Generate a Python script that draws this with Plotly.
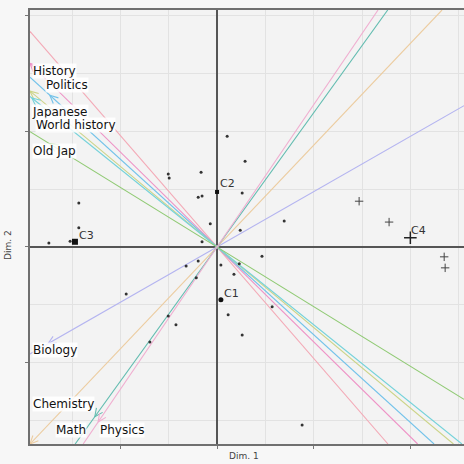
import numpy as np
import plotly.graph_objects as go

# ---- data ----
dot_x = [0.21, -1.01, -0.99, -0.33, 0.58, -0.39, -0.31, 0.52, -0.14, 0.48, 1.39, -0.31,
         -0.64, -0.39, 0.08, 0.46, 0.93, 0.35, -0.43, 0.23, 1.14, -1.01, -0.85, -1.39,
         -1.88, 0.52, 1.76, -2.86, -2.86, -3.48, -3.04]
dot_y = [1.91, 1.26, 1.19, 1.29, 1.48, 0.86, 0.88, 0.93, 0.40, 0.29, 0.45, 0.09,
         -0.33, -0.24, -0.31, -0.29, -0.16, -0.47, -0.53, -1.17, -1.03, -1.19, -1.34, -1.64,
         -0.81, -1.52, -3.07, 0.76, 0.33, 0.07, 0.10]
plus_x = [2.94, 3.56, 4.70, 4.72]
plus_y = [0.79, 0.43, -0.17, -0.36]

cent_names = ["C1", "C2", "C3", "C4"]
cent_x = [0.08, 0.0, -2.94, 4.0]
cent_y = [-0.91, 0.95, 0.09, 0.16]

var_names = ["", "History", "Politics", "Japanese", "World history", "Old Jap",
             "Biology", "Chemistry", "Math", "Physics"]
var_x = [-3.87, -3.87, -3.46, -3.87, -3.83, -3.46, -3.50, -3.87, -2.53, -2.46]
var_y = [3.72, 3.17, 2.62, 2.69, 2.57, 1.78, -1.67, -3.40, -2.93, -3.02]
var_colors = ["#f3a9b6", "#ee92c6", "#72c2ea", "#ccd488", "#74d2da", "#90ca74",
              "#b4b4f0", "#eccca0", "#62bcb0", "#f0aed0"]
var_arrow = [False, True, True, True, True, True, True, True, True, True]

label_x = [-3.83, -3.56, -3.85, -3.77, -3.83, -3.83, -3.83, -3.35, -2.44]
label_y = [3.03, 2.79, 2.33, 2.10, 1.66, -1.78, -2.71, -3.16, -3.16]

cent_lab_x = [0.10, 0.02, -2.90, 3.98]
cent_lab_y = [-0.81, 1.09, 0.19, 0.28]

XR = [-3.87, 5.11]
YR = [-3.40, 4.09]

fig = go.Figure()

# variable lines extended across the plot through the origin
for name, vx, vy, col, arr in zip(var_names, var_x, var_y, var_colors, var_arrow):
    d = np.array([vx, vy]) / np.hypot(vx, vy)
    ts = []
    for lim in XR:
        if d[0] != 0:
            ts.append(lim / d[0])
    for lim in YR:
        if d[1] != 0:
            ts.append(lim / d[1])
    tpos = min(t for t in ts if t > 0)
    tneg = max(t for t in ts if t < 0)
    fig.add_trace(go.Scatter(x=[d[0] * tneg, d[0] * tpos], y=[d[1] * tneg, d[1] * tpos],
                             mode="lines", line=dict(color=col, width=1.1),
                             hoverinfo="skip", showlegend=False))
    if arr:
        # open V arrowhead
        sx, sy = 48.3, 58.0
        px, py = vx * sx, vy * sy
        u = np.array([px, py]) / np.hypot(px, py)
        L = 9
        ang = np.radians(25)
        hx, hy = [], []
        for a in (ang, -ang):
            rx = -(u[0] * np.cos(a) - u[1] * np.sin(a)) * L
            ry = -(u[0] * np.sin(a) + u[1] * np.cos(a)) * L
            hx += [(px + rx) / sx, vx, None]
            hy += [(py + ry) / sy, vy, None]
        fig.add_trace(go.Scatter(x=hx, y=hy, mode="lines", line=dict(color=col, width=1.1),
                                 hoverinfo="skip", showlegend=False))

fig.add_trace(go.Scatter(x=dot_x, y=dot_y, mode="markers",
                         marker=dict(size=3, color="#333333"), showlegend=False))
fig.add_trace(go.Scatter(x=plus_x, y=plus_y, mode="markers",
                         marker=dict(symbol="cross-thin", size=6, line=dict(color="#444444", width=1)),
                         showlegend=False))
fig.add_trace(go.Scatter(x=[cent_x[0]], y=[cent_y[0]], mode="markers",
                         marker=dict(symbol="circle", size=5, color="#111111"), showlegend=False))
fig.add_trace(go.Scatter(x=[cent_x[1]], y=[cent_y[1]], mode="markers",
                         marker=dict(symbol="square", size=4, color="#111111"), showlegend=False))
fig.add_trace(go.Scatter(x=[cent_x[2]], y=[cent_y[2]], mode="markers",
                         marker=dict(symbol="square", size=6, color="#111111"), showlegend=False))
fig.add_trace(go.Scatter(x=[cent_x[3]], y=[cent_y[3]], mode="markers",
                         marker=dict(symbol="cross-thin", size=9, line=dict(color="#222222", width=1.5)),
                         showlegend=False))

annotations = []
for name, lx, ly in zip(var_names[1:], label_x, label_y):
    annotations.append(dict(x=lx, y=ly, xref="x", yref="y", text=name, showarrow=False,
                            xanchor="left", yanchor="middle", bgcolor="rgba(255,255,255,0.85)",
                            borderpad=0,
                            font=dict(family="DejaVu Sans", size=12, color="#111111")))
for name, lx, ly in zip(cent_names, cent_lab_x, cent_lab_y):
    annotations.append(dict(x=lx, y=ly, xref="x", yref="y", text=name, showarrow=False,
                            xanchor="left", yanchor="middle",
                            font=dict(family="DejaVu Sans", size=11, color="#333333")))
annotations.append(dict(x=0.494, y=-0.012, xref="paper", yref="paper", text="Dim. 1",
                        showarrow=False, xanchor="center", yanchor="top",
                        font=dict(family="DejaVu Sans", size=9, color="#444444")))
annotations.append(dict(x=-0.051, y=0.4585, xref="paper", yref="paper", text="Dim. 2",
                        showarrow=False, xanchor="center", yanchor="middle", textangle=-90,
                        font=dict(family="DejaVu Sans", size=9, color="#444444")))

fig.update_layout(
    width=464, height=464,
    margin=dict(l=30, r=0, t=10, b=20),
    paper_bgcolor="#f7f7f7", plot_bgcolor="#f3f3f3",
    annotations=annotations,
    showlegend=False,
)
fig.update_xaxes(range=XR, dtick=2, tick0=0, showgrid=True, gridcolor="#e2e2e2", gridwidth=1,
                 minor=dict(dtick=1, tick0=0, showgrid=True, gridcolor="#e2e2e2", gridwidth=1),
                 ticks="outside", ticklen=3, tickcolor="#777777", showticklabels=False,
                 showline=True, linecolor="#707070", linewidth=1.5, mirror=True,
                 zeroline=True, zerolinecolor="#555555", zerolinewidth=1.5)
fig.update_yaxes(range=YR, dtick=2, tick0=0, showgrid=True, gridcolor="#e2e2e2", gridwidth=1,
                 minor=dict(dtick=1, tick0=0, showgrid=True, gridcolor="#e2e2e2", gridwidth=1),
                 ticks="outside", ticklen=3, tickcolor="#777777", showticklabels=False,
                 showline=True, linecolor="#707070", linewidth=1.5,
                 zeroline=True, zerolinecolor="#555555", zerolinewidth=1.5)

fig.write_html("out.html", config={"displayModeBar": False},
               post_script="document.body.style.margin='0';document.body.style.overflow='hidden';")
